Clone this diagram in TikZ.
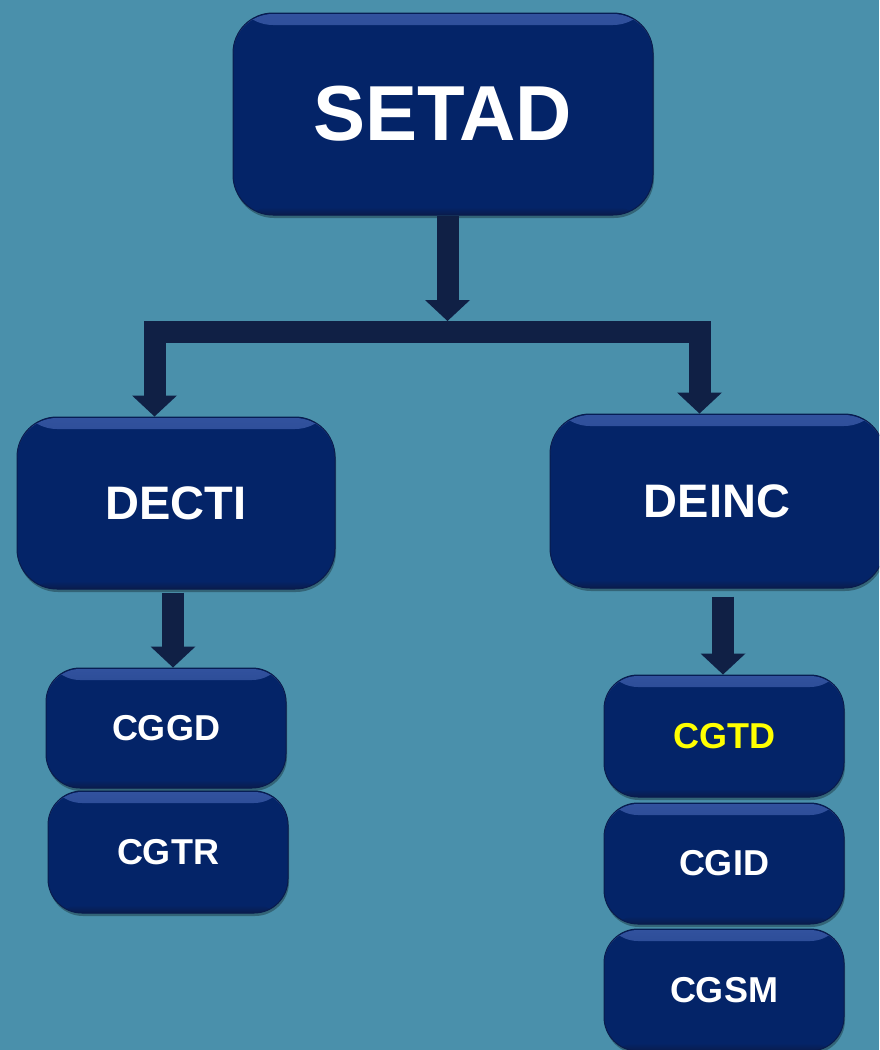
\documentclass[tikz,border=0pt]{standalone}
\usepackage{fontspec}
\setmainfont{Liberation Sans}
\usetikzlibrary{arrows.meta,shadows}

\definecolor{bgblue}{RGB}{74,144,171}
\definecolor{boxnavy}{RGB}{4,36,104}
\definecolor{boxedge}{RGB}{10,28,76}
\definecolor{boxlight}{RGB}{50,82,158}
\definecolor{arrownavy}{RGB}{16,32,69}
\definecolor{cgyellow}{RGB}{255,255,0}

\begin{document}
\begin{tikzpicture}[x=1pt,y=-1pt,
    unit/.style={rectangle,rounded corners=40pt,fill=boxnavy,draw=boxedge,line width=1pt,
        text=white,inner sep=0pt,align=center,
        drop shadow={shadow xshift=1pt,shadow yshift=-3pt,opacity=0.3,fill=black},
        path picture={
            \shade[top color=boxlight,bottom color=boxnavy]
                ([yshift=-1pt]path picture bounding box.north west) rectangle ([yshift=-12pt]path picture bounding box.north east);
            \shade[top color=boxnavy,bottom color=boxedge]
                ([yshift=8pt]path picture bounding box.south west) rectangle (path picture bounding box.south east);
        }},
    bigunit/.style={unit,font=\bfseries\fontsize{78}{80}\selectfont},
    midunit/.style={unit,font=\bfseries\fontsize{47}{50}\selectfont},
    smallunit/.style={unit,rounded corners=34pt,font=\bfseries\fontsize{36}{40}\selectfont,minimum width=240pt},
    blockarrow/.style={draw=arrownavy,line width=22pt,line join=miter,
        -{Triangle[length=21pt 0 0,width=45pt 0 0,line width=0pt 0 0]}},
    forkarrow/.style={blockarrow,
        {Triangle[length=21pt 0 0,width=45pt 0 0,line width=0pt 0 0]}-{Triangle[length=21pt 0 0,width=45pt 0 0,line width=0pt 0 0]}}]

    \clip (0,0) rectangle (879,1050);
    \fill[bgblue] (0,0) rectangle (879,1050);

    % Units
    \node [bigunit,minimum width=420pt,minimum height=202pt] (setad) at (443,114) {SETAD};
    \node [midunit,minimum width=318pt,minimum height=172pt] (decti) at (176,503) {DECTI};
    \node [midunit,minimum width=334pt,minimum height=174pt] (deinc) at (717,501) {DEINC};

    \node [smallunit,minimum height=120pt] (cggd) at (166,728) {CGGD};
    \node [smallunit,minimum height=122pt] (cgtr) at (168,852) {CGTR};

    \node [smallunit,minimum height=122pt,text=cgyellow] (cgtd) at (724,736) {CGTD};
    \node [smallunit,minimum height=121pt] (cgid) at (724,863.5) {CGID};
    \node [smallunit,minimum height=122pt] (cgsm) at (724,990) {CGSM};

    % Arrows
    \coordinate (split) at (447.5,321);
    \coordinate (dropL) at (154.5,332);
    \coordinate (dropR) at (699.5,332);

    \draw [blockarrow] (setad.south -| split) -- (split);
    \draw [forkarrow] (dropL |- decti.north) -- (dropL) -- (dropR) -- (dropR |- deinc.north);
    \draw [blockarrow] ([xshift=-3pt,yshift=-3pt]decti.south) -- ([xshift=7pt]cggd.north);
    \draw [blockarrow] ([xshift=6pt,yshift=-8pt]deinc.south) -- ([xshift=-1pt]cgtd.north);
\end{tikzpicture}
\end{document}
